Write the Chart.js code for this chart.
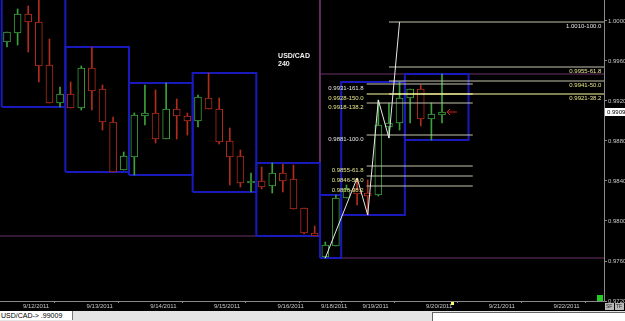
<!DOCTYPE html>
<html><head><meta charset="utf-8">
<script src="https://cdn.jsdelivr.net/npm/chart.js@4/dist/chart.umd.min.js"></script>
<style>
html,body{margin:0;padding:0;background:#000;width:625px;height:321px;overflow:hidden}
#wrap{position:absolute;left:0;top:0;width:625px;height:311px}
#status{position:absolute;left:0;top:311px;width:625px;height:10px;background:#e4e4e4;font:7px "Liberation Sans",Arial,sans-serif;color:#000}
#s1{position:absolute;left:0;top:0;width:71px;height:9px;background:#fff;border-right:1px solid #777;line-height:9px;padding-left:1px}
#s2{position:absolute;left:432px;top:1px;width:192px;height:9px;background:#fff;border-left:1px solid #666;border-top:1px solid #666}
</style></head><body>
<div id="wrap"><canvas id="c" width="625" height="311"></canvas></div>
<div id="status"><div id="s1">USD/CAD-&gt; .99009</div><div id="s2"></div></div>
<script>
// ---- data (USD/CAD, 240 min bars) ----
const opens  = [0.9979,0.9988,1.0007,0.9999,0.9956,0.9918, 0.9927,0.9913,0.9953,0.9932,0.9899,0.9851, 0.9864,0.9905,0.9908,0.9882,0.9912,0.9905, 0.9900,0.9923,0.9912,0.9880,0.9865,0.9838, 0.9840,0.9835,0.9848,0.9842,0.9813,0.9788, 0.9764,0.9775, 0.9823,0.9832,0.9828,0.9826,0.9894,0.9898, 0.9923,0.9932,0.9902,0.9906];
const highs  = [0.9989,1.0012,1.0015,1.0023,0.9982,0.9934, 0.9939,0.9955,0.9974,0.9936,0.9904,0.9869, 0.9908,0.9936,0.9931,0.9938,0.9922,0.9908, 0.9926,0.9948,0.9923,0.9893,0.9871,0.9848, 0.9854,0.9858,0.9857,0.9856,0.9813,0.9795, 0.9779,0.9826, 0.9836,0.9843,0.9841,0.9921,0.9918,0.9939, 0.9932,0.9936,0.9918,0.9947];
const lows   = [0.9974,0.9976,0.9969,0.9939,0.9918,0.9914, 0.9913,0.9911,0.9911,0.9891,0.9849,0.9851, 0.9846,0.9896,0.9878,0.9882,0.9882,0.9886, 0.9894,0.9912,0.9877,0.9836,0.9834,0.9829, 0.9832,0.9828,0.9829,0.9812,0.9787,0.9785, 0.9763,0.9775, 0.9823,0.9816,0.9806,0.9825,0.9883,0.9891, 0.9898,0.9895,0.9881,0.9898];
const closes = [0.9989,1.0007,0.9999,0.9955,0.9918,0.9927, 0.9913,0.9953,0.9930,0.9899,0.9849,0.9865, 0.9906,0.9908,0.9882,0.9912,0.9905,0.9900, 0.9924,0.9912,0.9879,0.9864,0.9838,0.9840, 0.9834,0.9848,0.9840,0.9812,0.9788,0.9785, 0.9776,0.9823, 0.9832,0.9827,0.9825,0.9896,0.9898,0.9923, 0.9932,0.9902,0.9907,0.9909];

const dateLabels  = ['9/12/2011','9/13/2011','9/14/2011','9/15/2011','9/16/2011','9/18/2011','9/19/2011','9/20/2011','9/21/2011','9/22/2011'];
const dateTickPos = [1.5, 7.5, 13.5, 19.5, 25.5, 29.6, 33.5, 39.5, 45.4, 51.5];
const priceTicks  = [0.9720,0.9760,0.9800,0.9840,0.9880,0.9920,0.9960,1.0000];

const dayStart = [0, 6, 12, 18, 24, 30, 32, 38];
const dayLen   = [6, 6, 6, 6, 6, 2, 6, 6];
const weekFrom = [-6.5, 29.5];
const weekTo   = [29.5, 63.5];

const zigX = [30, 33, 34, 35, 36, 37];
const zigY = [0.9763, 0.9843, 0.9806, 0.9921, 0.9883, 0.9999];

const fibALevels = [0.9999, 0.9954, 0.9940, 0.9927];
const fibALabels = ['1.0010-100.0','0.9955-61.8','0.9941-50.0','0.9921-38.2'];
const fibARange  = [36.0, 56.4];
const fibBLevels = [0.9937, 0.9927, 0.9918, 0.9886, 0.9855, 0.9845, 0.9835];
const fibBLabels = ['0.9931-161.8','0.9928-150.0','0.9918-138.2','0.9881-100.0','0.9855-61.8','0.9846-50.0','0.9836-38.2'];
const fibBRange  = [33.9, 43.9];

const symbolText = ['USD/CAD', '240'];

// ---- styles ----
const UP = '#3ca03c', DN = '#b02c1c', BOX = '#1a1abc', WEEK = '#6a336a';
const FIB = '#c4c4ac', FIBHOT = '#ffffa0', TXTW = '#e6e6e6', TXTY = '#e6e68c';

const idx = opens.map((_, i) => i);
const col = idx.map(i => closes[i] >= opens[i] ? UP : DN);
const datasets = [];

// day range boxes
dayStart.forEach((s, k) => {
  const hs = highs.slice(s, s + dayLen[k]), ls = lows.slice(s, s + dayLen[k]);
  const hi = Math.max(...hs), lo = Math.min(...ls);
  const x0 = s - 0.5, x1 = s + dayLen[k] - 0.5;
  datasets.push({type:'line', data:[{x:x0,y:lo},{x:x0,y:hi},{x:x1,y:hi},{x:x1,y:lo},{x:x0,y:lo}],
    borderColor: BOX, borderWidth: 2, pointRadius: 0, tension: 0, fill: false, order: 10});
});
// weekly range boxes
weekFrom.forEach((f, k) => {
  const sel = idx.filter(i => i > f && i < weekTo[k]);
  const hi = Math.max(...sel.map(i => highs[i])), lo = Math.min(...sel.map(i => lows[i]));
  datasets.push({type:'line', data:[{x:f,y:lo},{x:f,y:hi},{x:weekTo[k],y:hi},{x:weekTo[k],y:lo},{x:f,y:lo}],
    borderColor: WEEK, borderWidth: 1, pointRadius: 0, tension: 0, fill: false, order: 11});
});
// wicks
datasets.push({type:'bar', data: idx.map(i => ({x:i, y:[lows[i], highs[i]]})), backgroundColor: col,
  borderWidth: 0, barThickness: 1, grouped: false, order: 6});
// bodies
datasets.push({type:'bar', data: idx.map(i => ({x:i, y:[opens[i], closes[i]]})), backgroundColor: '#000',
  borderColor: col, borderWidth: 1, borderSkipped: false, barThickness: 7, grouped: false, order: 5});
// fib lines
fibALevels.forEach((lv, k) => datasets.push({type:'line', data:[{x:fibARange[0],y:lv},{x:fibARange[1],y:lv}],
  borderColor: k === 3 ? FIBHOT : FIB, borderWidth: 1, pointRadius: 0, order: 3}));
fibBLevels.forEach((lv, k) => datasets.push({type:'line', data:[{x:fibBRange[0],y:lv},{x:fibBRange[1],y:lv}],
  borderColor: k === 1 ? FIBHOT : FIB, borderWidth: 1, pointRadius: 0, order: 3}));
// zigzag
datasets.push({type:'line', data: zigX.map((x, k) => ({x, y: zigY[k]})), borderColor: '#e8e8e8',
  borderWidth: 1, pointRadius: 0, tension: 0, order: 1});

const fibAColors = [TXTW, TXTY, TXTY, TXTY];
const fibBColors = [TXTW, TXTY, TXTY, TXTW, TXTY, TXTY, TXTY];

const overlay = {
  id: 'overlay',
  afterDatasetsDraw(chart) {
    const {ctx, scales:{x, y}, chartArea:a} = chart;
    ctx.save();
    ctx.beginPath(); ctx.rect(a.left, a.top, a.right - a.left, a.bottom - a.top); ctx.clip();
    ctx.font = '6px "Liberation Sans", Arial, sans-serif';
    ctx.textBaseline = 'top';
    ctx.textAlign = 'right';
    fibALevels.forEach((lv, k) => { ctx.fillStyle = fibAColors[k];
      ctx.fillText(fibALabels[k], x.getPixelForValue(fibARange[1]) - 4, y.getPixelForValue(lv) + 1); });
    fibBLevels.forEach((lv, k) => { ctx.fillStyle = fibBColors[k];
      ctx.fillText(fibBLabels[k], x.getPixelForValue(fibBRange[0]) - 3, y.getPixelForValue(lv) + 1); });
    // symbol
    ctx.textAlign = 'left'; ctx.fillStyle = '#f0f0f0';
    ctx.font = 'bold 7px "Liberation Sans", Arial, sans-serif';
    ctx.fillText(symbolText[0], x.getPixelForValue(25.55), y.getPixelForValue(0.9968));
    ctx.fillText(symbolText[1], x.getPixelForValue(25.55), y.getPixelForValue(0.9960));
    // current price arrow
    const last = closes.length - 1, py = y.getPixelForValue(closes[last]), px = x.getPixelForValue(last) + 5;
    ctx.strokeStyle = '#d02020'; ctx.lineWidth = 1;
    ctx.beginPath(); ctx.moveTo(px, py); ctx.lineTo(px + 10, py);
    ctx.moveTo(px + 3, py - 3); ctx.lineTo(px, py); ctx.lineTo(px + 3, py + 3); ctx.stroke();
    ctx.restore();
  },
  afterDraw(chart) {
    const {ctx, scales:{x, y}, chartArea:a} = chart;
    ctx.save();
    const py = Math.round(y.getPixelForValue(closes[closes.length - 1]));
    ctx.fillStyle = '#fff'; ctx.fillRect(a.right + 1, py - 4, 20, 8);
    ctx.fillStyle = '#000'; ctx.font = '6px "Liberation Sans", Arial, sans-serif';
    ctx.textBaseline = 'middle'; ctx.textAlign = 'left';
    ctx.fillText(closes[closes.length - 1].toFixed(4), a.right + 3, py);
    ctx.fillStyle = '#22cc22'; ctx.fillRect(a.right - 7, a.bottom - 6, 6, 6);
    ctx.fillStyle = '#ffff66'; ctx.fillRect(451, a.bottom + 1, 3, 3);
    ctx.fillStyle = '#b8b8b8'; ctx.fillRect(a.right + 1, a.bottom + 2, 9, 7); ctx.fillRect(a.right + 11, a.bottom + 2, 9, 7);
    ctx.fillStyle = '#222'; ctx.font = '5px "Liberation Sans", Arial, sans-serif';
    ctx.fillText('SF', a.right + 2, a.bottom + 6); ctx.fillText('TF', a.right + 12, a.bottom + 6);
    ctx.restore();
  }
};

Chart.defaults.font.family = '"Liberation Sans", Arial, sans-serif';
new Chart(document.getElementById('c'), {
  type: 'bar',
  data: { datasets },
  options: {
    responsive: false, maintainAspectRatio: false, animation: false, devicePixelRatio: 1,
    layout: { padding: 0 },
    plugins: { legend: { display: false }, tooltip: { enabled: false } },
    events: [],
    scales: {
      x: {
        type: 'linear', min: -0.66, max: 56.27, offset: false,
        border: { color: '#8a8a8a', width: 1 },
        grid: { drawOnChartArea: false, drawTicks: true, tickLength: 2, color: '#8a8a8a' },
        ticks: { color: '#c8c8c8', font: { size: 6 }, padding: 0, align: 'start', autoSkip: false, maxRotation: 0,
          callback: (v, i) => dateLabels[i] },
        afterBuildTicks: s => { s.ticks = dateTickPos.map(v => ({ value: v })); },
        afterFit: s => { s.height = 10; s.paddingLeft = 0; s.paddingRight = 0; }
      },
      y: {
        type: 'linear', position: 'right', min: 0.9720, max: 1.0021,
        border: { color: '#8a8a8a', width: 1 },
        grid: { drawOnChartArea: false, drawTicks: true, tickLength: 3, color: '#8a8a8a' },
        ticks: { color: '#c8c8c8', font: { size: 6 }, padding: 1, autoSkip: false, callback: v => v.toFixed(4) },
        afterBuildTicks: s => { s.ticks = priceTicks.map(v => ({ value: v })); },
        afterFit: s => { s.width = 21; s.paddingTop = 0; s.paddingBottom = 0; }
      }
    }
  },
  plugins: [overlay]
});
</script>
</body></html>
